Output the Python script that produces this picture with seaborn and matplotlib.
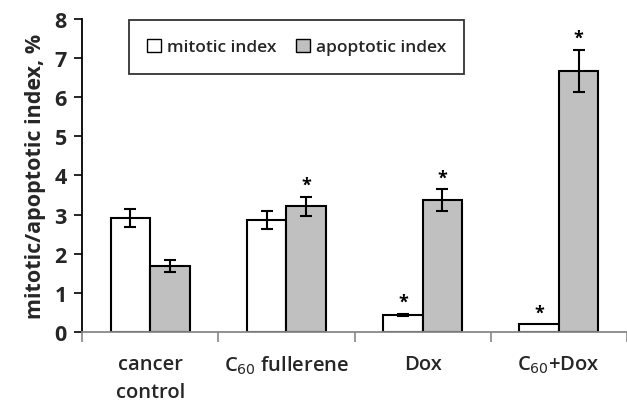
import matplotlib
matplotlib.use("Agg")
import matplotlib.pyplot as plt
import seaborn as sns
import pandas as pd
import numpy as np
from matplotlib.ticker import FixedLocator
from matplotlib.container import BarContainer

categories = ["cancer\ncontrol", "C$_{60}$ fullerene", "Dox", "C$_{60}$+Dox"]
series = ["mitotic index", "apoptotic index"]
mitotic = [2.92, 2.86, 0.44, 0.20]
mitotic_err = [0.23, 0.23, 0.03, 0.0]
apoptotic = [1.68, 3.21, 3.36, 6.67]
apoptotic_err = [0.15, 0.24, 0.28, 0.54]
mitotic_star = [False, False, True, True]
apoptotic_star = [False, True, True, True]

sns.set_theme(style="white")
plt.rcParams['font.family'] = ['Open Sans', 'DejaVu Sans']

df = pd.DataFrame({
    "category": categories * 2,
    "series": [series[0]] * 4 + [series[1]] * 4,
    "value": mitotic + apoptotic,
})

fig = plt.figure(figsize=(6.27, 4.06), dpi=100)
ax = fig.add_axes([0.131, 0.18, 0.869, 0.771])

sns.barplot(data=df, x="category", y="value", hue="series", order=categories,
            hue_order=series, palette=["white", "#c0c0c0"], edgecolor="black",
            linewidth=1.5, width=0.58, errorbar=None, ax=ax, saturation=1)

errs = [mitotic_err, apoptotic_err]
vals = [mitotic, apoptotic]
stars = [mitotic_star, apoptotic_star]
bar_conts = [c for c in ax.containers if isinstance(c, BarContainer)]
for si, cont in enumerate(bar_conts):
    for ci, bar in enumerate(list(cont.patches)):
        xc = bar.get_x() + bar.get_width() / 2
        v = vals[si][ci]
        e = errs[si][ci]
        if e > 0:
            ax.errorbar(xc, v, yerr=e, fmt="none", ecolor="black", elinewidth=1.5,
                        capsize=4, capthick=1.5, zorder=5)
        if stars[si][ci]:
            ax.text(xc, v + e + 0.30, "*", ha="center", va="center",
                    fontsize=13, fontweight="bold", color="black")

ax.set_xlim(-0.5, 3.5)
ax.set_ylim(0, 8)
ax.set_yticks(range(0, 9))
ax.set_yticklabels([str(i) for i in range(0, 9)], fontsize=15.5, fontweight="bold")
ax.set_xticks(range(4))
ax.set_xticklabels(categories, fontsize=14.5, fontweight="semibold", linespacing=1.55)
ax.xaxis.set_minor_locator(FixedLocator([-0.5, 0.5, 1.5, 2.5, 3.5]))
ax.tick_params(axis="x", which="major", length=0, pad=16)
ax.tick_params(axis="x", which="minor", length=7, width=1.2, color="#888888", direction="out", bottom=True)
ax.tick_params(axis="y", which="major", length=6, width=1.2, color="black", direction="out", left=True, pad=5)
ax.set_xlabel("")
ax.set_ylabel("mitotic/apoptotic index, %", fontsize=15.5, fontweight="bold", labelpad=6)

for s in ["top", "right"]:
    ax.spines[s].set_visible(False)
ax.spines["left"].set_color("black")
ax.spines["left"].set_linewidth(1.3)
ax.spines["bottom"].set_color("#888888")
ax.spines["bottom"].set_linewidth(1.3)

leg = ax.legend(loc="upper left", bbox_to_anchor=(0.086, 0.995), ncol=2, frameon=True,
                fancybox=False, edgecolor="black", handlelength=0.8,
                handleheight=0.8, handletextpad=0.35, columnspacing=1.1,
                borderpad=1.05, borderaxespad=0.0,
                prop={"weight": "semibold", "size": 12.5})
leg.get_frame().set_linewidth(1.3)
for h in leg.legend_handles:
    h.set_linewidth(1.0)

fig.savefig("out.png", dpi=100)
